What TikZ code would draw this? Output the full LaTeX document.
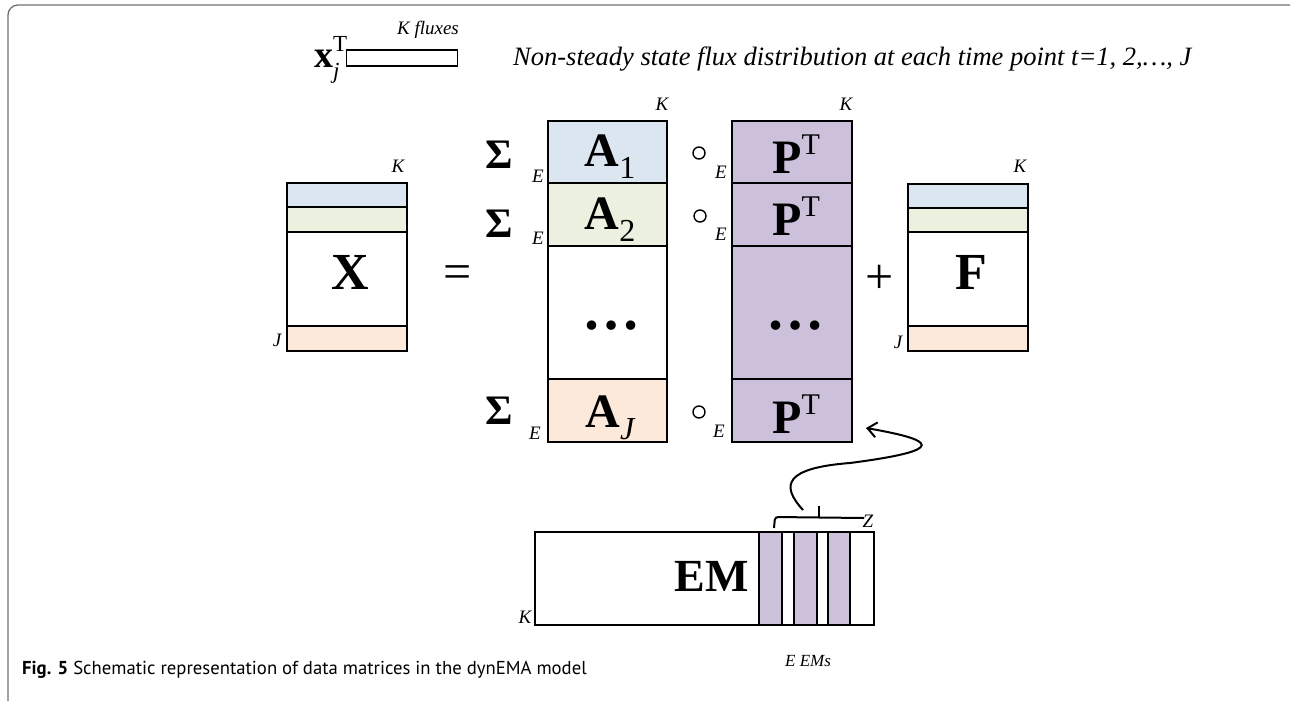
\documentclass[tikz,border=0pt]{standalone}
\usepackage{fontspec}
\setmainfont{Liberation Serif}
\newfontfamily\capfont{PT Sans}
\usetikzlibrary{arrows.meta}
\definecolor{mblue}{HTML}{DCE6F1}
\definecolor{mgreen}{HTML}{EBF1DE}
\definecolor{morange}{HTML}{FDE9D9}
\definecolor{mpurple}{HTML}{CCC0DA}
\definecolor{framegray}{HTML}{707070}
\tikzset{
  mat/.style={draw=black, line width=2pt, inner sep=0pt, outer sep=0pt},
  dimlab/.style={font=\fontsize{19}{19}\selectfont\itshape, inner sep=0pt},
  bigsym/.style={font=\fontsize{42}{42}\selectfont\bfseries, inner sep=0pt},
  matlab/.style={font=\fontsize{48}{48}\selectfont\bfseries, inner sep=0pt},
  dotlab/.style={font=\fontsize{58}{58}\selectfont\bfseries, inner sep=0pt},
  biglab/.style={font=\fontsize{52}{52}\selectfont\bfseries, inner sep=0pt},
  oper/.style={font=\fontsize{50}{50}\selectfont, inner sep=0pt},
  hprod/.style={circle, draw=black, line width=1.4pt, minimum size=12pt, inner sep=0pt},
}
\newcommand\subl[1]{\raisebox{-0.25em}{\fontsize{32}{32}\selectfont\mdseries #1}}
\newcommand\supl[1]{\raisebox{0.4em}{\fontsize{30}{30}\selectfont\mdseries #1}}
\begin{document}
\begin{tikzpicture}[x=1pt,y=-1pt]
\useasboundingbox (0,0) rectangle (1292,701);
% frame
\draw[framegray, line width=1.3pt, rounded corners=10pt] (8,701) -- (8,5) -- (1290,5);
% top legend
\node[inner sep=0pt, anchor=base west, font=\fontsize{38}{38}\selectfont] (xj) at (314,67) {\textbf{x}\rlap{\raisebox{0.4em}{\fontsize{23}{23}\selectfont T}}\raisebox{-0.3em}{\fontsize{23}{23}\selectfont\itshape j}};
\node[draw=black, line width=1.6pt, minimum width=111pt, minimum height=16pt, inner sep=0pt] (xbox) at (402,58) {};
\node[dimlab] (kflux) at (428,30) {K fluxes};
\node[anchor=west, inner sep=0pt, font=\fontsize{26.5}{26.5}\selectfont\itshape] (nss) at (513,59) {Non-steady state flux distribution at each time point t=1, 2,…, J};
% X matrix
\node[mat, fill=mblue, minimum width=120pt, minimum height=24pt] (xb) at (347,195) {};
\node[mat, fill=mgreen, minimum width=120pt, minimum height=25pt] (xg) at (347,219.5) {};
\node[mat, fill=white, minimum width=120pt, minimum height=94pt] (xw) at (347,279) {};
\node[mat, fill=morange, minimum width=120pt, minimum height=25pt] (xo) at (347,338.5) {};
\node[biglab] (xl) at (350,272) {X};
\node[dimlab] (xk) at (398,166) {K};
\node[dimlab] (xjl) at (277,340) {J};
\node[oper] (eq) at (458,277) {=};
% A column
\node[mat, fill=mblue, minimum width=119pt, minimum height=62pt] (a1) at (607.5,152) {};
\node[mat, fill=mgreen, minimum width=119pt, minimum height=63pt] (a2) at (607.5,214.5) {};
\node[mat, fill=white, minimum width=119pt, minimum height=133pt] (ad) at (607.5,312.5) {};
\node[mat, fill=morange, minimum width=119pt, minimum height=63pt] (aj) at (607.5,410.5) {};
\node[matlab] (a1l) at (610,157) {A\subl{1}};
\node[matlab] (a2l) at (610,220) {A\subl{2}};
\node[dotlab] (adl) at (611,326) {…};
\node[matlab] (ajl) at (610,418) {A\subl{\itshape J}};
\node[dimlab] (ak) at (662,104) {K};
\node[dimlab] (ae1) at (538,176) {E};
\node[dimlab] (ae2) at (538,238) {E};
\node[dimlab] (ae3) at (535,433) {E};
\node[bigsym] (s1) at (499,155) {Σ};
\node[bigsym] (s2) at (499,224) {Σ};
\node[bigsym] (s3) at (499,411) {Σ};
% Hadamard
\node[hprod] (h1) at (699,153) {};
\node[hprod] (h2) at (700,216) {};
\node[hprod] (h3) at (699,412) {};
% P column
\node[mat, fill=mpurple, minimum width=120pt, minimum height=62pt] (p1) at (792,152) {};
\node[mat, fill=mpurple, minimum width=120pt, minimum height=63pt] (p2) at (792,214.5) {};
\node[mat, fill=mpurple, minimum width=120pt, minimum height=133pt] (pd) at (792,312.5) {};
\node[mat, fill=mpurple, minimum width=120pt, minimum height=63pt] (pj) at (792,410.5) {};
\node[matlab] (p1l) at (796,154) {P\supl{T}};
\node[matlab] (p2l) at (796,216) {P\supl{T}};
\node[dotlab] (pdl) at (795,326) {…};
\node[matlab] (pjl) at (796,414) {P\supl{T}};
\node[dimlab] (pk) at (846,104) {K};
\node[dimlab] (pe1) at (721,172) {E};
\node[dimlab] (pe2) at (721,234) {E};
\node[dimlab] (pe3) at (719,431) {E};
% F matrix
\node[oper] (plus) at (880,279) {+};
\node[mat, fill=mblue, minimum width=120pt, minimum height=24pt] (fb) at (968,196) {};
\node[mat, fill=mgreen, minimum width=120pt, minimum height=24pt] (fg) at (968,220) {};
\node[mat, fill=white, minimum width=120pt, minimum height=94pt] (fw) at (968,279) {};
\node[mat, fill=morange, minimum width=120pt, minimum height=25pt] (fo) at (968,338.5) {};
\node[biglab] (fl) at (971,272) {F};
\node[dimlab] (fk) at (1020,166) {K};
\node[dimlab] (fjl) at (898,342) {J};
% EM matrix
\node[mat, fill=white, minimum width=339pt, minimum height=93pt] (em) at (704.5,578.5) {};
\node[mat, fill=mpurple, minimum width=23pt, minimum height=93pt] (st1) at (770.5,578.5) {};
\node[mat, fill=mpurple, minimum width=23pt, minimum height=93pt] (st2) at (805.5,578.5) {};
\node[mat, fill=mpurple, minimum width=22pt, minimum height=93pt] (st3) at (839,578.5) {};
\node[font=\fontsize{46}{46}\selectfont\bfseries, inner sep=0pt] (eml) at (712,576) {EM};
\node[dimlab] (emk) at (525,617) {K};
\node[font=\fontsize{17}{17}\selectfont\itshape, inner sep=0pt] (eme) at (808,661) {E EMs};
% bracket
\coordinate (bl) at (774,528);
\coordinate (br) at (864,518);
\draw[line width=2pt, rounded corners=3pt] (bl) -- (775,517) -- (br);
\draw[line width=2pt] (819,517) -- (819,506);
\node[dimlab] (zl) at (868,521) {Z};
% curved arrow
\coordinate (arrstart) at (803,510);
\coordinate (arrend) at (866,428);
\draw[line width=2pt, -{Straight Barb[length=9pt,width=15pt]}] (arrstart) .. controls (780,485) and (785,468) .. (850,463) .. controls (950,450) and (935,440) .. (arrend);
% caption
\node[anchor=west, inner sep=0pt, font=\capfont\fontsize{18.7}{18.7}\selectfont] (cap) at (22,670) {\textbf{Fig. 5} Schematic representation of data matrices in the dynEMA model};
\end{tikzpicture}
\end{document}
